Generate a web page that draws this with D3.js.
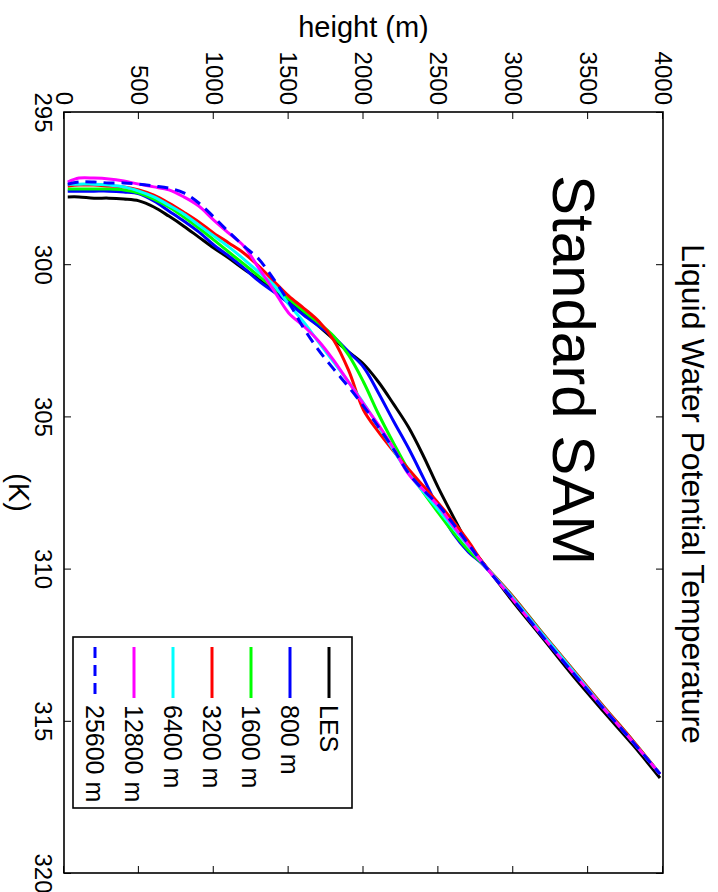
<!DOCTYPE html>
<html>
<head>
<meta charset="utf-8">
<script src="https://cdn.jsdelivr.net/npm/d3@7"></script>
<style>
  body { margin: 0; background: #fff; }
  svg { display: block; }
  text { font-family: "Liberation Sans", Arial, Helvetica, sans-serif; fill: #000; }
</style>
</head>
<body>
<svg id="chart" width="718" height="892"></svg>
<script>
// heights (m) shared by every profile
var heights = [25, 100, 200, 300, 400, 500, 600, 700, 800, 900, 1000, 1100, 1200, 1300, 1400, 1500,
  1600, 1700, 1800, 1900, 2000, 2100, 2200, 2300, 2400, 2500, 2600, 2700, 2800, 3000, 3200, 3400,
  3600, 3800, 3980];

// liquid water potential temperature (K) per run
var tLES = [297.79, 297.79, 297.83, 297.83, 297.86, 297.92, 298.12, 298.42, 298.75, 299.11, 299.47, 299.80,
  300.16, 300.49, 300.88, 301.24, 301.60, 302.03, 302.46, 302.88, 303.28, 303.87, 304.59, 305.35, 306.30,
  307.35, 308.30, 309.20, 309.82, 311.10, 312.31, 313.53, 314.68, 315.80, 316.88];
var t800 = [297.60, 297.60, 297.60, 297.60, 297.63, 297.69, 297.92, 298.25, 298.58, 298.94, 299.37, 299.73,
  300.12, 300.55, 300.91, 301.27, 301.67, 302.03, 302.39, 302.88, 303.38, 304.23, 305.15, 306.04, 307.02,
  308.02, 308.85, 309.45, 309.88, 311.00, 312.21, 313.40, 314.55, 315.70, 316.75];
var t1600 = [297.53, 297.53, 297.53, 297.53, 297.56, 297.66, 297.86, 298.12, 298.45, 298.81, 299.20, 299.60,
  299.99, 300.39, 300.78, 301.14, 301.54, 301.93, 302.36, 302.98, 303.87, 304.92, 305.87, 306.76, 307.50,
  308.17, 308.82, 309.40, 309.86, 310.93, 312.15, 313.33, 314.51, 315.66, 316.75];
var t3200 = [297.43, 297.40, 297.40, 297.43, 297.46, 297.56, 297.73, 297.99, 298.29, 298.61, 298.98, 299.30,
  299.63, 300.06, 300.55, 301.04, 301.44, 301.87, 302.49, 303.48, 304.79, 305.51, 306.14, 306.73, 307.29,
  307.85, 308.45, 309.10, 309.82, 310.93, 312.15, 313.33, 314.51, 315.66, 316.75];
var t6400 = [297.37, 297.37, 297.37, 297.40, 297.46, 297.60, 297.79, 298.06, 298.35, 298.71, 299.07, 299.43,
  299.83, 300.26, 300.68, 301.31, 301.90, 302.56, 303.21, 303.87, 304.56, 305.32, 306.10, 306.86, 307.48,
  308.07, 308.67, 309.26, 309.85, 310.97, 312.18, 313.36, 314.55, 315.70, 316.75];
var t12800 = [297.30, 297.17, 297.17, 297.20, 297.27, 297.37, 297.46, 297.56, 297.79, 298.09, 298.55, 298.98,
  299.40, 300.12, 300.85, 301.60, 302.03, 302.52, 303.15, 303.87, 304.59, 305.28, 306.04, 306.89, 307.42,
  307.94, 308.60, 309.22, 309.85, 311.03, 312.25, 313.43, 314.58, 315.70, 316.75];
var t25600 = [297.37, 297.30, 297.30, 297.33, 297.33, 297.37, 297.43, 297.50, 297.66, 297.99, 298.45, 298.94,
  299.40, 299.83, 300.49, 301.24, 302.10, 302.82, 303.44, 304.03, 304.66, 305.35, 306.07, 306.86, 307.42,
  307.91, 308.53, 309.19, 309.85, 311.03, 312.25, 313.43, 314.58, 315.70, 316.75];

var seriesNames = ["LES", "800 m", "1600 m", "3200 m", "6400 m", "12800 m", "25600 m"];
var seriesValues = [tLES, t800, t1600, t3200, t6400, t12800, t25600];
var seriesColors = ["#000000", "#0000ff", "#00ff00", "#ff0000", "#00ffff", "#ff00ff", "#0000ff"];
var seriesDash = [null, null, null, null, null, null, "11,7"];

var tempTicks = [295, 300, 305, 310, 315, 320];
var heightTicks = [0, 500, 1000, 1500, 2000, 2500, 3000, 3500, 4000];

// the figure is laid out unrotated (892 wide, 718 tall) and then turned 90 degrees clockwise
var svg = d3.select("#chart");
var fig = svg.append("g").attr("transform", "translate(718,0) rotate(90)");

var x = d3.scaleLinear().domain([295, 320]).range([112, 873]);
var y = d3.scaleLinear().domain([0, 4000]).range([654, 55]);

// curves
var line = d3.line()
  .x(d => x(d[1]))
  .y(d => y(d[0]))
  .curve(d3.curveCatmullRom.alpha(0.5));

fig.append("g")
  .selectAll("path")
  .data(seriesValues)
  .enter()
  .append("path")
  .attr("d", d => line(heights.map((h, i) => [h, d[i]])))
  .attr("fill", "none")
  .attr("stroke", (d, i) => seriesColors[i])
  .attr("stroke-width", 3)
  .attr("stroke-dasharray", (d, i) => seriesDash[i])
  .attr("stroke-linejoin", "round");

// axes, ticks inward on all four sides
function styleAxis(g, size) {
  g.select(".domain").remove();
  g.selectAll(".tick line").attr("stroke", "#000").attr("stroke-width", 1);
  g.selectAll(".tick text").attr("font-size", size).attr("fill", "#000");
  g.attr("font-family", null);
}

fig.append("g")
  .attr("transform", "translate(0,654)")
  .call(d3.axisBottom(x).tickValues(tempTicks).tickSize(-7).tickPadding(12).tickFormat(d3.format("d")))
  .call(g => styleAxis(g, 24));

fig.append("g")
  .attr("transform", "translate(0,55)")
  .call(d3.axisTop(x).tickValues(tempTicks).tickSize(-7).tickFormat(""))
  .call(g => styleAxis(g, 24));

fig.append("g")
  .attr("transform", "translate(112,0)")
  .call(d3.axisLeft(y).tickValues(heightTicks).tickSize(-7).tickPadding(7).tickFormat(d3.format("d")))
  .call(g => styleAxis(g, 24));

fig.append("g")
  .attr("transform", "translate(873,0)")
  .call(d3.axisRight(y).tickValues(heightTicks).tickSize(-7).tickFormat(""))
  .call(g => styleAxis(g, 24));

fig.append("rect")
  .attr("x", 112).attr("y", 55)
  .attr("width", 873 - 112).attr("height", 654 - 55)
  .attr("fill", "none")
  .attr("stroke", "#000")
  .attr("stroke-width", 1.6);

// labels
fig.append("text")
  .attr("x", 494).attr("y", 36)
  .attr("text-anchor", "middle")
  .attr("font-size", 32)
  .text("Liquid Water Potential Temperature");

fig.append("text")
  .attr("x", 492.5).attr("y", 709)
  .attr("text-anchor", "middle")
  .attr("font-size", 29)
  .text("(K)");

fig.append("text")
  .attr("transform", "translate(37,354.5) rotate(-90)")
  .attr("text-anchor", "middle")
  .attr("font-size", 29)
  .text("height (m)");

fig.append("text")
  .attr("x", 175).attr("y", 165)
  .attr("font-size", 60)
  .text("Standard SAM");

// legend
var legend = fig.append("g");
legend.append("rect")
  .attr("x", 637).attr("y", 366)
  .attr("width", 808 - 637).attr("height", 645 - 366)
  .attr("fill", "#fff")
  .attr("stroke", "#000")
  .attr("stroke-width", 1.6);

var entry = legend.selectAll("g.entry")
  .data(seriesNames)
  .enter()
  .append("g")
  .attr("class", "entry")
  .attr("transform", (d, i) => "translate(0," + (389 + i * 39) + ")");

entry.append("line")
  .attr("x1", 647).attr("x2", 698)
  .attr("stroke", (d, i) => seriesColors[i])
  .attr("stroke-width", 3)
  .attr("stroke-dasharray", (d, i) => seriesDash[i]);

entry.append("text")
  .attr("x", 705)
  .attr("dy", "0.35em")
  .attr("font-size", 25)
  .text(d => d);
</script>
</body>
</html>
